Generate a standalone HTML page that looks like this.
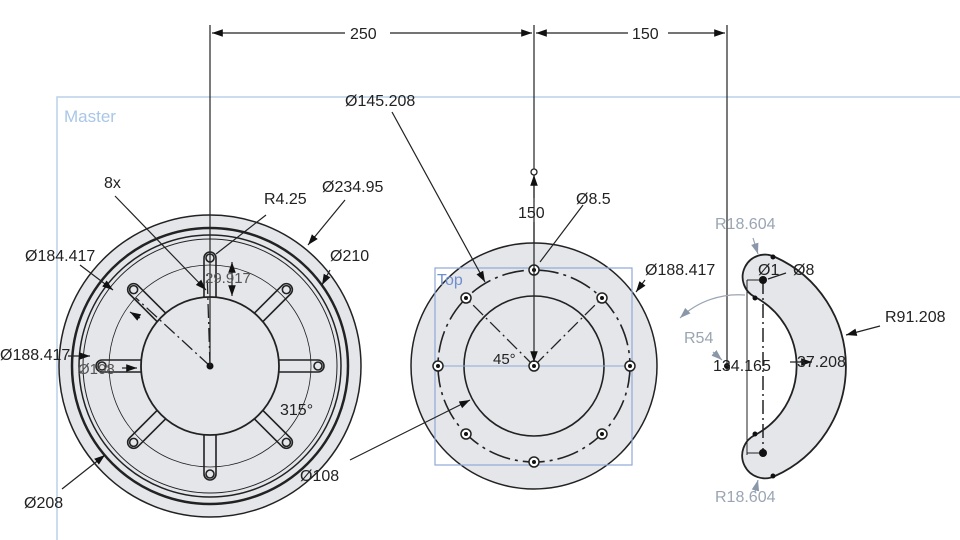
<!DOCTYPE html>
<html><head><meta charset="utf-8"><style>
html,body{margin:0;padding:0;background:#fff;}
svg{display:block;font-family:"Liberation Sans",sans-serif;}
</style></head><body>
<svg width="960" height="540" viewBox="0 0 960 540" xmlns="http://www.w3.org/2000/svg">
<defs>
<marker id="a" viewBox="0 0 10 10" refX="10" refY="5" markerWidth="9" markerHeight="9" orient="auto-start-reverse"><path d="M0,1.5L10,5L0,8.5z" fill="#111"/></marker>
<marker id="g" viewBox="0 0 10 10" refX="10" refY="5" markerWidth="9" markerHeight="9" orient="auto-start-reverse"><path d="M0,1.5L10,5L0,8.5z" fill="#8a97a8"/></marker>
</defs>
<!-- master frame -->
<path d="M57,540 V97 H960" fill="none" stroke="#bcd0ea" stroke-width="1.5"/>
<text x="64" y="122" font-size="17" fill="#a9c6e8">Master</text>

<!-- LEFT PART -->
<g stroke="#222" fill="none">
<circle cx="210" cy="366" r="151" fill="#e4e6ea" stroke-width="1.5"/>
<circle cx="210" cy="366" r="138" stroke-width="2.5"/>
<circle cx="210" cy="366" r="131" stroke-width="1.5"/>
<circle cx="210" cy="366" r="127" stroke-width="1"/>
<circle cx="210" cy="366" r="101" stroke-width="0.8"/>
<circle cx="210" cy="366" r="69" stroke-width="1.8"/>
<g stroke-width="1.6">
<g id="slot"><path d="M204,297 V258 A6,6 0 0 1 216,258 V297"/><circle cx="210" cy="258" r="4"/></g>
<use href="#slot" transform="rotate(45 210 366)"/>
<use href="#slot" transform="rotate(90 210 366)"/>
<use href="#slot" transform="rotate(135 210 366)"/>
<use href="#slot" transform="rotate(180 210 366)"/>
<use href="#slot" transform="rotate(225 210 366)"/>
<use href="#slot" transform="rotate(270 210 366)"/>
<use href="#slot" transform="rotate(315 210 366)"/>
</g>
<path d="M210,366 L136,298" stroke-dasharray="14,4,2,4" stroke-width="1.3"/>
<path d="M210,366 L207,270" stroke-dasharray="14,4,2,4" stroke-width="1.3"/>
</g>
<circle cx="210" cy="366" r="3.5" fill="#111"/>

<!-- top dims -->
<g stroke="#222" stroke-width="1.2" fill="none">
<line x1="210" y1="25" x2="210" y2="366"/>
<line x1="534" y1="25" x2="534" y2="366"/>
<line x1="727" y1="25" x2="727" y2="370"/>
<line x1="212" y1="33" x2="345" y2="33" marker-start="url(#a)"/>
<line x1="390" y1="33" x2="532" y2="33" marker-end="url(#a)"/>
<line x1="536" y1="33" x2="628" y2="33" marker-start="url(#a)"/>
<line x1="668" y1="33" x2="725" y2="33" marker-end="url(#a)"/>
</g>
<g font-size="16" fill="#222">
<text x="350" y="39">250</text>
<text x="632" y="39">150</text>
</g>

<!-- MIDDLE PART -->
<g stroke="#222" fill="none">
<circle cx="534" cy="366" r="123" fill="#e4e6ea" stroke-width="1.5"/>
<circle cx="534" cy="366" r="96" stroke-width="1.6" stroke-dasharray="22,5,3,5"/>
<circle cx="534" cy="366" r="70" stroke-width="1.6"/>
<path d="M534,366 L466,298 M534,366 L602,298" stroke-width="1.3" stroke-dasharray="14,4,2,4"/>
</g>
<rect x="435" y="268" width="197" height="197" fill="none" stroke="#8fa8d8" stroke-width="1.2"/>
<line x1="435" y1="366" x2="632" y2="366" stroke="#8fa8d8" stroke-width="1"/>
<text x="437" y="285" font-size="16" fill="#6f8fd0">Top</text>
<g fill="#fff" stroke="#222" stroke-width="1.5">
<circle cx="534" cy="270" r="5"/><circle cx="602" cy="298" r="5"/><circle cx="630" cy="366" r="5"/><circle cx="602" cy="434" r="5"/>
<circle cx="534" cy="462" r="5"/><circle cx="466" cy="434" r="5"/><circle cx="438" cy="366" r="5"/><circle cx="466" cy="298" r="5"/>
<circle cx="534" cy="366" r="5"/>
</g>
<g fill="#111"><circle cx="534" cy="270" r="2"/><circle cx="602" cy="298" r="2"/><circle cx="630" cy="366" r="2"/><circle cx="602" cy="434" r="2"/><circle cx="534" cy="462" r="2"/><circle cx="466" cy="434" r="2"/><circle cx="438" cy="366" r="2"/><circle cx="466" cy="298" r="2"/><circle cx="534" cy="366" r="2"/></g>
<circle cx="534" cy="172" r="3" fill="#fff" stroke="#222" stroke-width="1.3"/>
<g stroke="#222" stroke-width="1.2" fill="none">
<line x1="534" y1="175" x2="534" y2="198" marker-start="url(#a)"/>
<line x1="534" y1="222" x2="534" y2="362" marker-end="url(#a)"/>
</g>

<!-- RIGHT PART -->
<path d="M775,257 A120,120 0 0 1 775,476 A22,22 0 1 1 755,435 A78,78 0 0 0 755,297 A22,22 0 1 1 775,257 Z" fill="#e4e6ea" stroke="#222" stroke-width="1.8"/>
<path d="M763,280 V455" stroke="#222" stroke-width="1.5" stroke-dasharray="14,4,2,4"/>
<path d="M747,280 V455" stroke="#222" stroke-width="1"/>
<path d="M747,280 H763 M747,453 H763" stroke="#222" stroke-width="1"/>
<g fill="#111"><circle cx="763" cy="280" r="4"/><circle cx="763" cy="453" r="4"/><circle cx="773" cy="257" r="2.5"/><circle cx="773" cy="476" r="2.5"/><circle cx="755" cy="298" r="2.5"/><circle cx="755" cy="434" r="2.5"/><circle cx="727" cy="366" r="3"/></g>
<path d="M745,295 A85,85 0 0 0 680,318" fill="none" stroke="#9aa5b3" stroke-width="1.2" marker-end="url(#g)"/>

<!-- leaders -->
<g stroke="#222" stroke-width="1.2" fill="none">
<line x1="115" y1="196" x2="206" y2="290" marker-end="url(#a)"/>
<line x1="266" y1="215" x2="216" y2="254"/>
<line x1="345" y1="200" x2="308" y2="245" marker-end="url(#a)"/>
<line x1="330" y1="270" x2="322" y2="285" marker-end="url(#a)"/>
<line x1="80" y1="265" x2="113" y2="290" marker-end="url(#a)"/>
<line x1="68" y1="356" x2="90" y2="356" marker-end="url(#a)"/>
<line x1="122" y1="368" x2="137" y2="368" marker-end="url(#a)"/>
<line x1="62" y1="489" x2="105" y2="455" marker-end="url(#a)"/>
<line x1="232" y1="262" x2="232" y2="296" marker-start="url(#a)" marker-end="url(#a)"/>
<line x1="140" y1="318" x2="130" y2="312" marker-end="url(#a)"/>
<line x1="350" y1="460" x2="470" y2="400" marker-end="url(#a)"/>
<line x1="392" y1="112" x2="485" y2="282" marker-end="url(#a)"/>
<line x1="583" y1="205" x2="540" y2="262"/>
<line x1="645" y1="280" x2="636" y2="292" marker-end="url(#a)"/>
<line x1="880" y1="326" x2="846" y2="335" marker-end="url(#a)"/>
<line x1="790" y1="362" x2="812" y2="362" marker-end="url(#a)"/>
<line x1="786" y1="273" x2="768" y2="279"/>
</g>
<g stroke="#9aa5b3" stroke-width="1.2" fill="none">
<line x1="753" y1="238" x2="758" y2="254" marker-end="url(#g)"/>
<line x1="755" y1="492" x2="758" y2="480" marker-end="url(#g)"/>
<line x1="713" y1="352" x2="722" y2="360" marker-end="url(#g)"/>
</g>

<!-- labels -->
<g font-size="16" fill="#222">
<text x="104" y="188">8x</text>
<text x="264" y="204">R4.25</text>
<text x="322" y="192">Ø234.95</text>
<text x="330" y="261">Ø210</text>
<text x="25" y="261">Ø184.417</text>
<text x="0" y="360">Ø188.417</text>
<text x="78" y="374" font-size="15" fill="#555">Ø108</text>
<text x="205" y="283" font-size="15" fill="#555">29.917</text>
<text x="280" y="415">315°</text>
<text x="300" y="481">Ø108</text>
<text x="24" y="508">Ø208</text>
<text x="345" y="106">Ø145.208</text>
<text x="518" y="218">150</text>
<text x="576" y="204">Ø8.5</text>
<text x="645" y="275">Ø188.417</text>
<text x="493" y="364" font-size="15">45°</text>
<text x="885" y="322">R91.208</text>
<text x="758" y="275">Ø1</text>
<text x="793" y="275">Ø8</text>
<text x="713" y="371">134.165</text>
<text x="797" y="367">37.208</text>
</g>
<g font-size="16" fill="#9aa5b3">
<text x="715" y="229">R18.604</text>
<text x="684" y="343">R54</text>
<text x="715" y="502">R18.604</text>
</g>
</svg>
</body></html>
